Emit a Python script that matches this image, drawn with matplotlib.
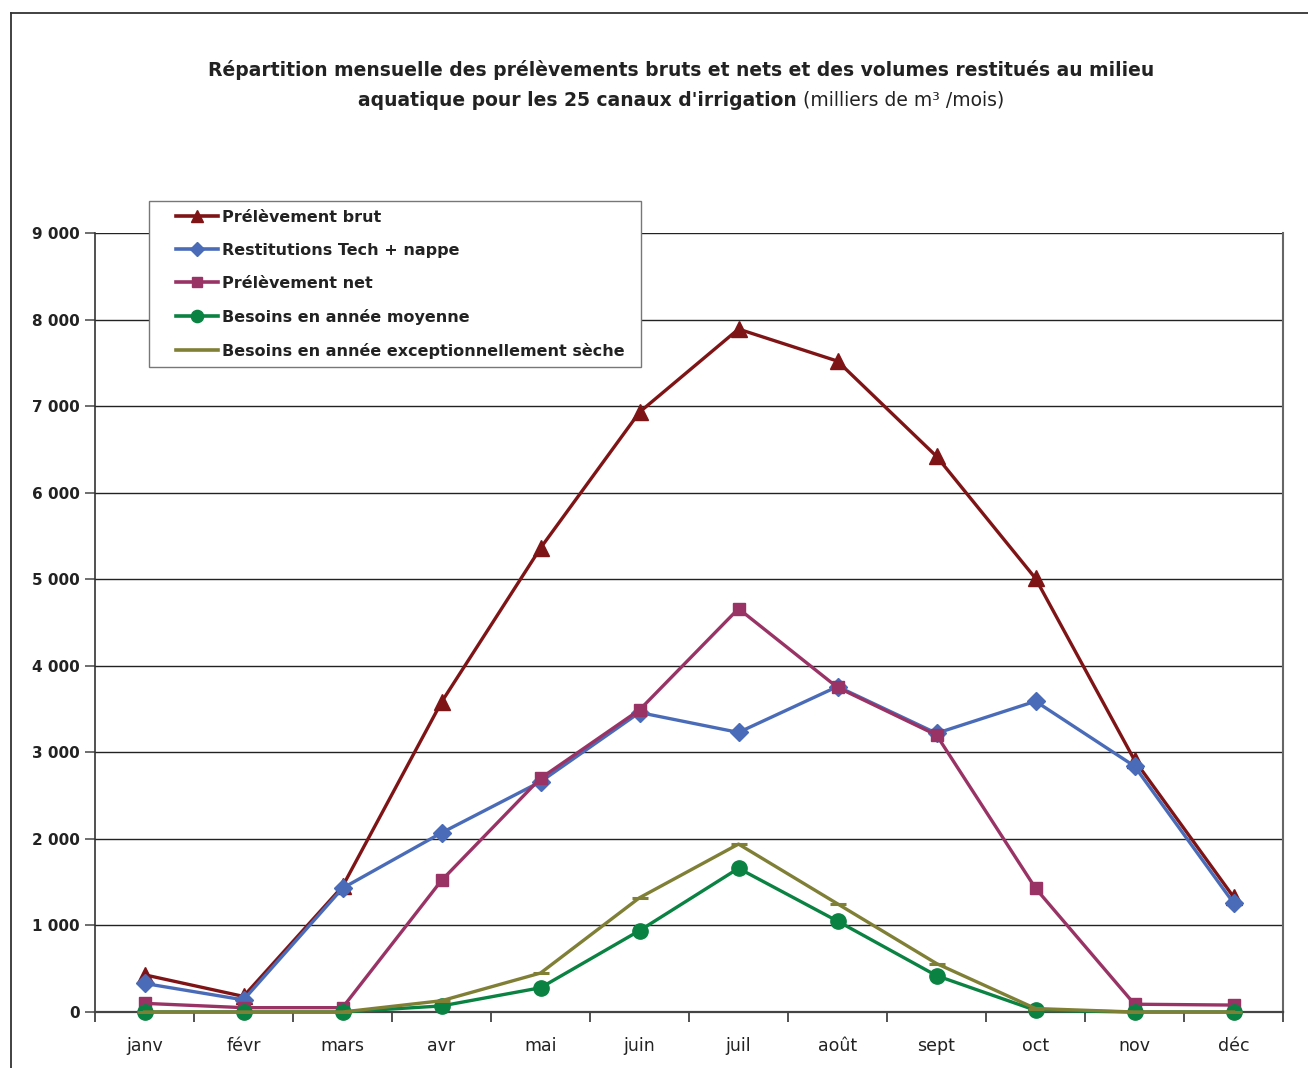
import matplotlib
matplotlib.use("Agg")
import matplotlib.pyplot as plt
from matplotlib.ticker import FuncFormatter, FixedLocator
from matplotlib.lines import Line2D
from matplotlib.patches import Rectangle

months = ["janv", "févr", "mars", "avr", "mai", "juin", "juil", "août", "sept", "oct", "nov", "déc"]
prelevement_brut = [430, 180, 1450, 3580, 5360, 6930, 7890, 7520, 6420, 5010, 2910, 1330]
restitutions = [330, 140, 1430, 2070, 2660, 3460, 3230, 3760, 3220, 3590, 2840, 1260]
prelevement_net = [100, 50, 50, 1520, 2700, 3490, 4660, 3750, 3200, 1430, 90, 80]
besoins_moyenne = [0, 0, 0, 70, 280, 940, 1660, 1050, 420, 20, 0, 0]
besoins_seche = [0, 0, 0, 130, 450, 1320, 1940, 1250, 560, 40, 0, 0]
yticks = [0, 1000, 2000, 3000, 4000, 5000, 6000, 7000, 8000, 9000]

FAM = ["DejaVu Sans"]
plt.rcParams['font.family'] = FAM

W, H = 1308, 1068
fig = plt.figure(figsize=(W / 100, H / 100), dpi=100)
ax = fig.add_axes([95 / W, 56 / H, 1188 / W, 779 / H])

x = list(range(len(months)))
series = [
    (prelevement_brut, "Prélèvement brut", "#7f1416", "^", 11, {}),
    (restitutions, "Restitutions Tech + nappe", "#4a6cb8", "D", 9, {}),
    (prelevement_net, "Prélèvement net", "#993366", "s", 9, {}),
    (besoins_moyenne, "Besoins en année moyenne", "#0a8242", "o", 11, {}),
    (besoins_seche, "Besoins en année exceptionnellement sèche", "#7f7f35", "_", 12, {"markeredgewidth": 2.2}),
]
handles = []
for vals, lab, col, mk, ms, extra in series:
    ax.plot(x, vals, color=col, lw=2.4, marker=mk, markersize=ms,
            markerfacecolor=col, markeredgecolor=col, clip_on=False, zorder=3, **extra)
    if mk == "_":
        h = Line2D([], [], color=col, lw=2.6)
    else:
        h = Line2D([], [], color=col, lw=2.6, marker=mk, markersize=ms * 0.8,
                   markerfacecolor=col, markeredgecolor=col)
    handles.append(h)

ax.set_xlim(-0.5, 11.5)
ax.set_ylim(0, 9000)
ax.yaxis.set_major_locator(FixedLocator(yticks))
ax.yaxis.set_major_formatter(FuncFormatter(lambda v, p: f"{int(v):,}".replace(",", " ")))
ax.set_xticks(x)
ax.set_xticklabels(months)
ax.set_xticks([i - 0.5 for i in range(13)], minor=True)
ax.tick_params(axis='x', which='major', length=0, pad=18, labelsize=12.5, colors="#222222")
ax.tick_params(axis='x', which='minor', length=7, width=1.2, direction='out', color="#333333")
ax.tick_params(axis='y', which='major', length=7, width=1.2, direction='out', pad=4,
               labelsize=11, color="#555555")
for t in ax.get_yticklabels():
    t.set_fontweight('bold')
    t.set_color("#222222")
ax.grid(axis='y', color="#222222", lw=1.0, zorder=0)
ax.set_axisbelow(True)
ax.spines['top'].set_visible(False)
ax.spines['left'].set_color("#333333")
ax.spines['left'].set_linewidth(1.2)
ax.spines['right'].set_color("#666666")
ax.spines['right'].set_linewidth(1.5)
ax.spines['bottom'].set_color("#444444")
ax.spines['bottom'].set_linewidth(1.6)

# legend box (frame drawn separately)
box = Rectangle((149 / W, 1 - 367 / H), (641 - 149) / W, (367 - 201) / H,
                transform=fig.transFigure, facecolor="white", edgecolor="#777777",
                lw=1.0, zorder=9)
fig.add_artist(box)
leg = fig.legend(handles, [s[1] for s in series], loc='upper left',
                 bbox_to_anchor=(176 / W, 1 - 210 / H),
                 borderaxespad=0, frameon=False,
                 prop={'weight': 'bold', 'size': 11.5, 'family': FAM},
                 handlelength=2.6, handletextpad=0.25, labelspacing=1.12,
                 borderpad=0)
leg.set_zorder(10)
for t in leg.get_texts():
    t.set_color("#222222")

# outer frame (top and left visible)
fig.add_artist(Line2D([11 / W, 11 / W], [0, 1 - 13 / H], transform=fig.transFigure, color="#333333", lw=1.3))
fig.add_artist(Line2D([11 / W, 1], [1 - 13 / H, 1 - 13 / H], transform=fig.transFigure, color="#333333", lw=1.3))

# title
fig.text(681 / W, 1 - 70 / H, "Répartition mensuelle des prélèvements bruts et nets et des volumes restitués au milieu",
         ha='center', va='center', fontsize=13.5, fontweight='bold', color="#222222")
fig.canvas.draw()
r = fig.canvas.get_renderer()
t1 = fig.text(0, 1 - 100 / H, "aquatique pour les 25 canaux d'irrigation", ha='left', va='center',
              fontsize=13.5, fontweight='bold', color="#222222")
t2 = fig.text(0, 1 - 100 / H, " (milliers de m³ /mois)", ha='left', va='center',
              fontsize=13.5, color="#222222")
w1 = t1.get_window_extent(r).width
w2 = t2.get_window_extent(r).width
start = 681 - (w1 + w2) / 2
t1.set_x(start / W)
t2.set_x((start + w1) / W)

fig.savefig("out.png", dpi=100)
